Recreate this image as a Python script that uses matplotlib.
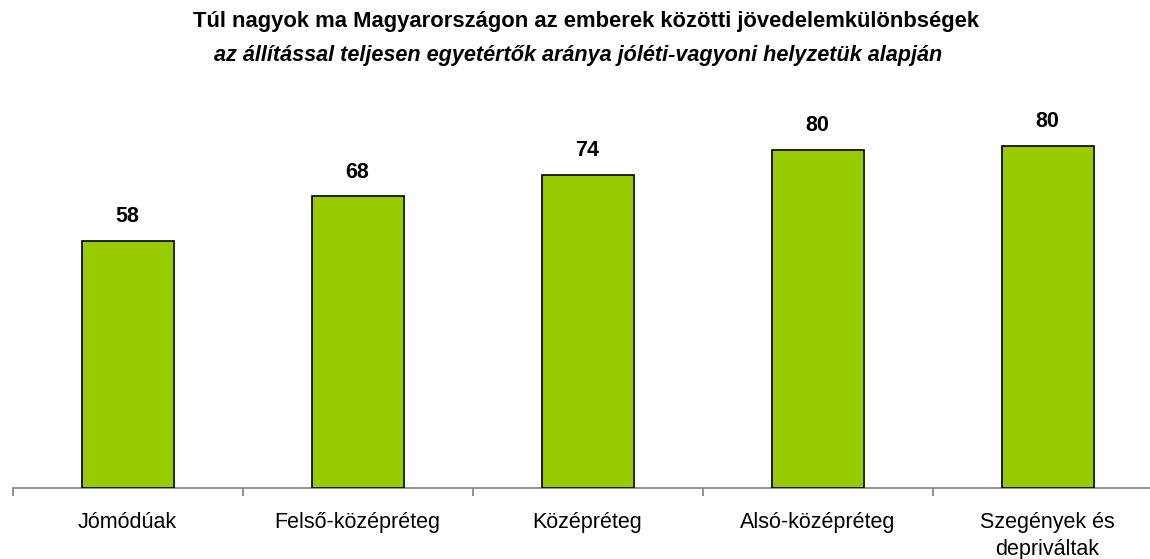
import matplotlib
matplotlib.use("Agg")
import matplotlib.pyplot as plt
from matplotlib.ticker import FixedLocator

plt.rcParams['font.family'] = ['Liberation Sans', 'DejaVu Sans']

categories = ["Jómódúak", "Felső-középréteg", "Középréteg", "Alsó-középréteg", "Szegények és\ndepriváltak"]
values = [58.2, 68.6, 73.6, 79.6, 80.5]
value_labels = ["58", "68", "74", "80", "80"]

title_main = "Túl nagyok ma Magyarországon az emberek közötti jövedelemkülönbségek"
title_sub = "az állítással teljesen egyetértők aránya jóléti-vagyoni helyzetük alapján"

W, H = 1150, 559
fig = plt.figure(figsize=(W / 100, H / 100), dpi=100)
ax = fig.add_axes([12.6 / W, (H - 488) / H, 1150 / W, 425 / H])

x = list(range(len(categories)))
ax.bar(x, values, width=0.4, color="#99CC00", edgecolor="black", linewidth=1.2, zorder=3)
for xi, v, lab in zip(x, values, value_labels):
    ax.annotate(lab, (xi, v), xytext=(0, 17.5), textcoords="offset points",
                ha="center", va="center", fontsize=15.5, fontweight="bold")

ax.set_xlim(-0.5, len(categories) - 0.5)
ax.set_ylim(0, 100)
ax.set_yticks([])
for s in ["left", "right", "top"]:
    ax.spines[s].set_visible(False)
ax.spines["bottom"].set_color("#808080")
ax.spines["bottom"].set_linewidth(1.2)

ax.set_xticks(x)
ax.set_xticklabels(categories, fontsize=15.5, linespacing=1.4)
ax.tick_params(axis="x", which="major", length=0, pad=17)
ax.xaxis.set_minor_locator(FixedLocator([i - 0.5 for i in range(len(categories) + 1)]))
ax.tick_params(axis="x", which="minor", length=5.5, width=1.2, color="#808080", direction="out")

fig.text(586 / W, 1 - 22 / H, title_main, ha="center", va="center", fontsize=15.8, fontweight="bold")
fig.text(578 / W, 1 - 55 / H, title_sub, ha="center", va="center", fontsize=15.6, fontweight="bold", style="italic")

fig.savefig("out.png", dpi=100)
